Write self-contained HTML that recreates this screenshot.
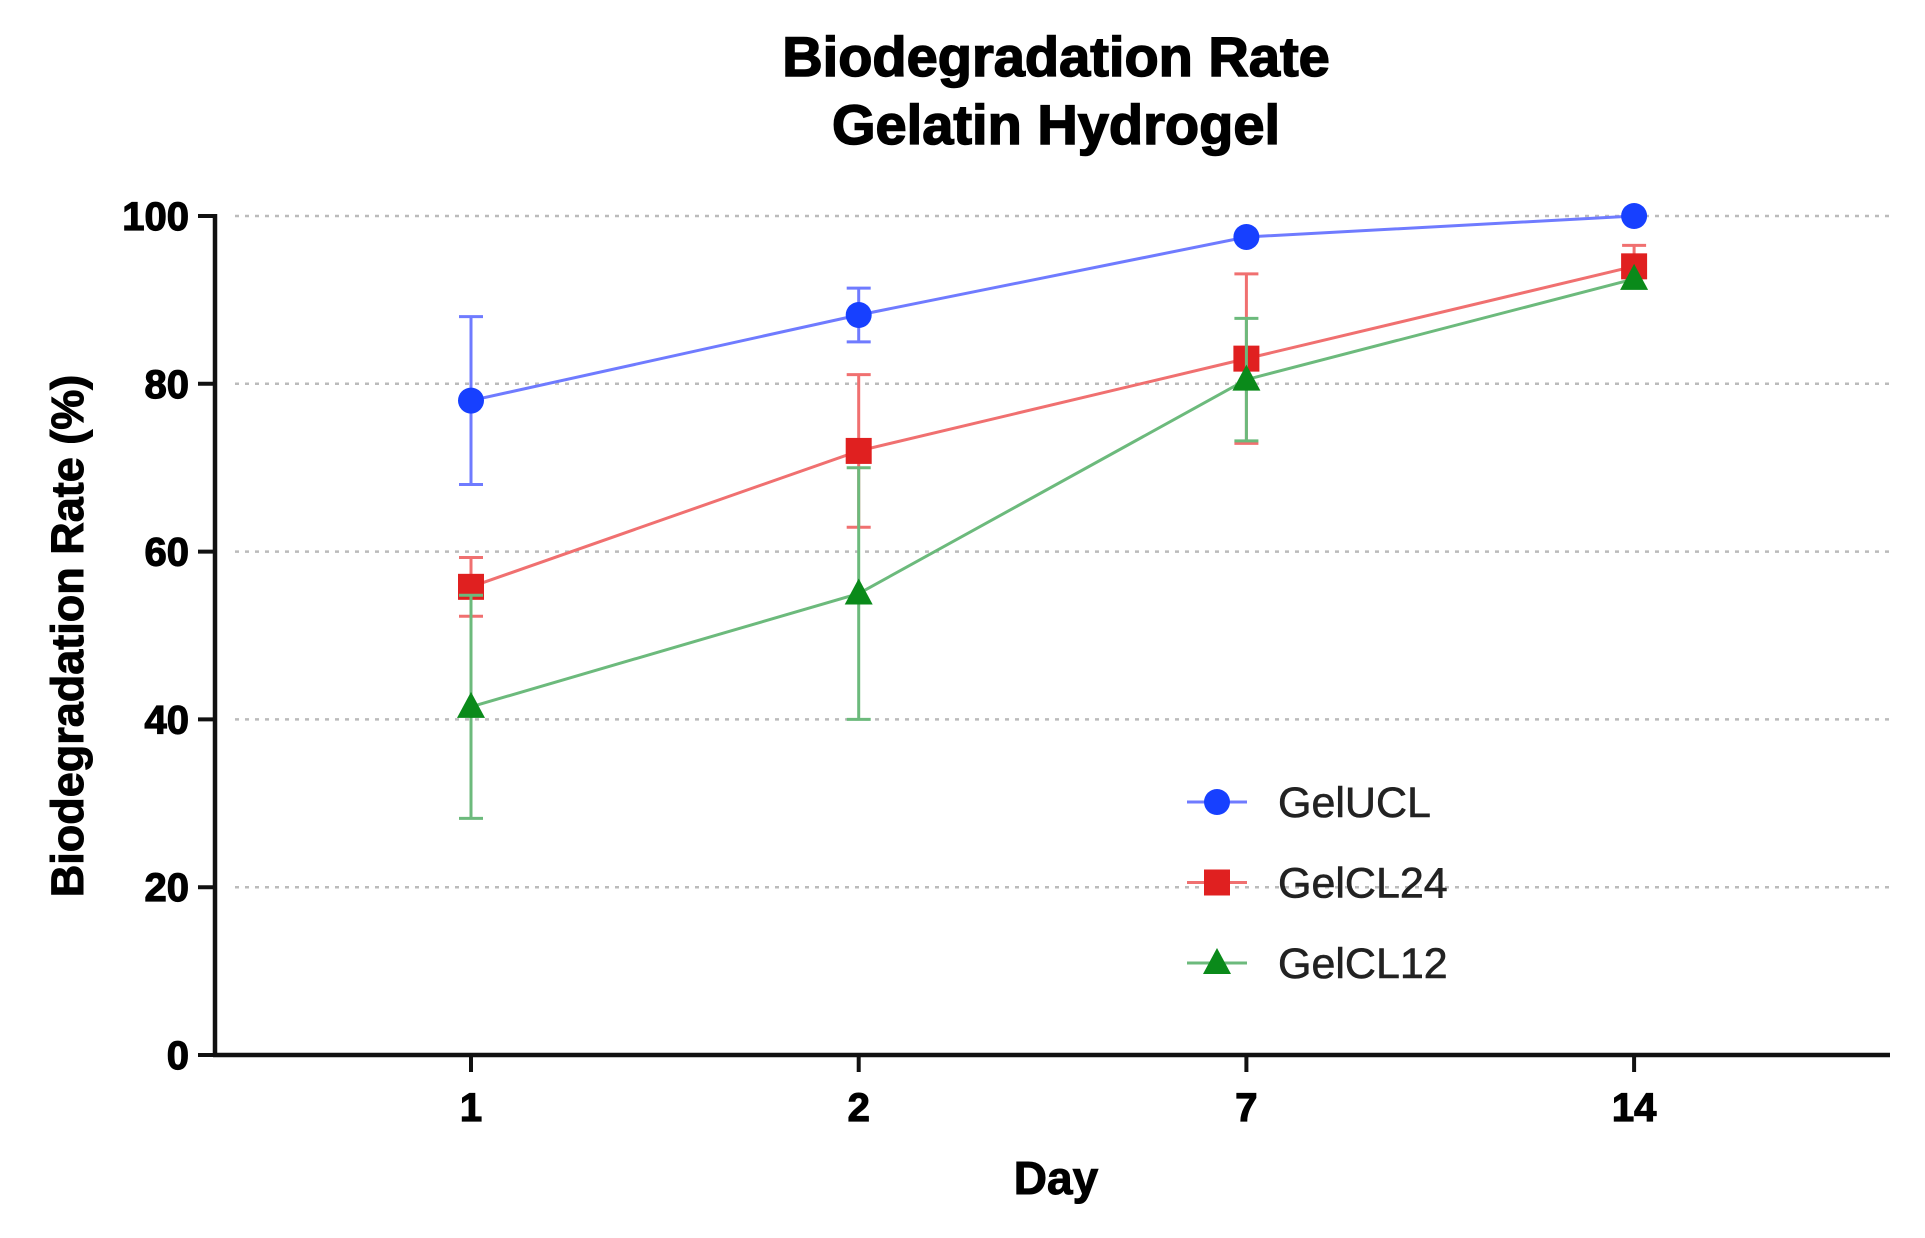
<!DOCTYPE html>
<html><head><meta charset="utf-8"><style>
body{margin:0;background:#fff}
svg{display:block;font-family:"Liberation Sans",Arial,sans-serif}
</style></head><body>
<svg id="c" width="1925" height="1238" viewBox="0 0 1925 1238">
<text x="1056" y="76" text-anchor="middle" font-size="56" font-weight="bold" stroke="#000" stroke-width="1.5">Biodegradation Rate</text>
<text x="1056" y="144" text-anchor="middle" font-size="56" font-weight="bold" stroke="#000" stroke-width="1.5">Gelatin Hydrogel</text>
<text transform="translate(83,636) rotate(-90)" text-anchor="middle" font-size="45" font-weight="bold" stroke="#000" stroke-width="1">Biodegradation Rate (%)</text>
<text x="1056" y="1194" text-anchor="middle" font-size="46" font-weight="bold" stroke="#000" stroke-width="1">Day</text>
<g id="grid"></g><g id="axes"></g><g id="series"></g><g id="legend"></g>
</svg>
<script>
const categories=["1","2","7","14"];
const yTicks=[0,20,40,60,80,100];
const seriesNames=["GelUCL","GelCL24","GelCL12"];
const ucl=[78,88.2,97.5,100];
const uclErr=[10,3.2,0,0];
const cl24=[55.8,72,83,94];
const cl24Err=[3.5,9.1,10.1,2.5];
const cl12=[41.5,55,80.5,92.5];
const cl12Err=[13.3,15,7.3,0.5];
const NS="http://www.w3.org/2000/svg";
const X0=215,X1=1890,Y0=1055,Y100=216;
const xs=i=>471+i*387.7;
const ys=v=>Y0+(Y100-Y0)*v/100;
function mk(t,a,p){const e=document.createElementNS(NS,t);for(const k in a)e.setAttribute(k,a[k]);p.appendChild(e);return e;}
const grid=document.getElementById('grid'),axes=document.getElementById('axes'),ser=document.getElementById('series'),leg=document.getElementById('legend');
yTicks.forEach(v=>{
 if(v>0){const g=mk('line',{x1:X0+20,x2:X1,y1:ys(v),y2:ys(v),stroke:'#bbb','stroke-width':2.5,'stroke-dasharray':'4 6'},grid);
 }
 const t=mk('line',{x1:X0-17,x2:X0,y1:ys(v),y2:ys(v),stroke:'#111','stroke-width':4},axes);
 
 const l=mk('text',{x:X0-26,y:ys(v)+14,'text-anchor':'end','font-size':40,'font-weight':'bold',stroke:'#000','stroke-width':1.2},axes);l.textContent=v;
 
});
const ya=mk('line',{x1:X0,x2:X0,y1:Y100-2,y2:Y0+2,stroke:'#111','stroke-width':4.5},axes);

const xa=mk('line',{x1:X0-2,x2:X1,y1:Y0,y2:Y0,stroke:'#111','stroke-width':4.5},axes);

categories.forEach((c,i)=>{
 const t=mk('line',{x1:xs(i),x2:xs(i),y1:Y0,y2:Y0+17,stroke:'#111','stroke-width':4},axes);
 
 const l=mk('text',{x:xs(i),y:Y0+66,'text-anchor':'middle','font-size':40,'font-weight':'bold',stroke:'#000','stroke-width':1.2},axes);l.textContent=c;
 
});
function marker(type,x,y,fill,p,name){
 let e;
 if(type==='c')e=mk('circle',{cx:x,cy:y,r:13,fill:fill},p);
 else if(type==='s')e=mk('rect',{x:x-13,y:y-13,width:26,height:26,fill:fill},p);
 else e=mk('polygon',{points:`${x},${y-15} ${x-14},${y+11} ${x+14},${y+11}`,fill:fill},p);
 
}
const defs=[[ucl,uclErr,'#6f7bff','#1740ff','c'],[cl24,cl24Err,'#f07070','#e02020','s'],[cl12,cl12Err,'#6cba7c','#0a8a1a','t']];
defs.forEach((d,si)=>{
 const [vals,err,lc,mc,type]=d;
 const g=mk('g',{},ser);
 const pl=mk('polyline',{points:vals.map((v,i)=>xs(i)+','+ys(v)).join(' '),fill:'none',stroke:lc,'stroke-width':3},g);
 
 vals.forEach((v,i)=>{
  if(err[i]>0.6){
   const x=xs(i),a=ys(v+err[i]),b=ys(v-err[i]);
   const eb=mk('path',{d:`M${x},${a}V${b}M${x-12},${a}H${x+12}M${x-12},${b}H${x+12}`,stroke:lc,'stroke-width':3,fill:'none'},g);
   
  }
 });
 vals.forEach((v,i)=>marker(type,xs(i),ys(v),mc,g,'point-'+seriesNames[si]+'-day'+categories[i]));
 const ly=802+si*80.5;
 const ll=mk('line',{x1:1187,x2:1247,y1:ly,y2:ly,stroke:lc,'stroke-width':3},leg);
 
 marker(type,1217,ly,mc,leg,'legend-marker-'+seriesNames[si]);
 const lt=mk('text',{x:1278,y:ly+15,'font-size':43,fill:'#222',stroke:'#222','stroke-width':0.6},leg);lt.textContent=seriesNames[si];
 
});
</script>
</body></html>
